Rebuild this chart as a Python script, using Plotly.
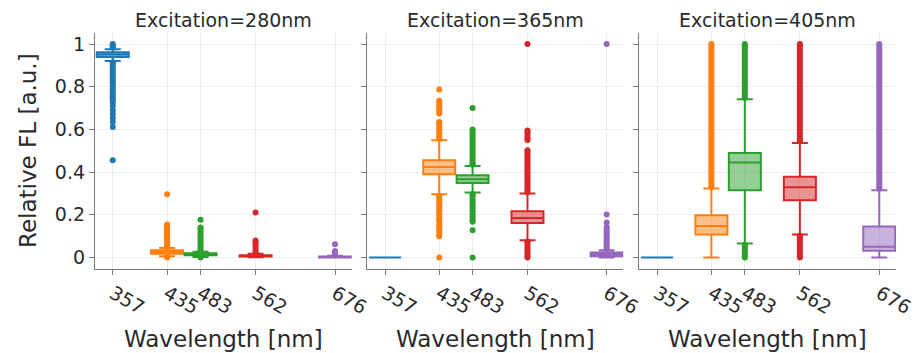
import plotly.graph_objects as go

WAVELENGTHS = [357, 435, 483, 562, 676]
EXCITATIONS = ["280nm", "365nm", "405nm"]
COLORS = ["#1f77b4", "#ff7f0e", "#2ca02c", "#d62728", "#9467bd"]

# box statistics per excitation, one value per emission wavelength
q1_280 = [0.940, 0.018, 0.010, 0.005, 0.000]
med_280 = [0.951, 0.026, 0.015, 0.008, 0.002]
q3_280 = [0.962, 0.034, 0.020, 0.011, 0.004]
lo_280 = [0.921, 0.006, 0.002, 0.001, 0.000]
hi_280 = [0.976, 0.045, 0.027, 0.017, 0.008]

q1_365 = [0.0, 0.390, 0.349, 0.162, 0.006]
med_365 = [0.0, 0.424, 0.367, 0.185, 0.015]
q3_365 = [0.0, 0.456, 0.385, 0.217, 0.023]
lo_365 = [0.0, 0.296, 0.304, 0.081, 0.000]
hi_365 = [0.0, 0.549, 0.429, 0.300, 0.034]

q1_405 = [0.0, 0.108, 0.315, 0.268, 0.031]
med_405 = [0.0, 0.147, 0.445, 0.329, 0.050]
q3_405 = [0.0, 0.198, 0.490, 0.378, 0.145]
lo_405 = [0.0, 0.000, 0.066, 0.108, 0.000]
hi_405 = [0.0, 0.323, 0.741, 0.537, 0.315]

# outliers: dense ranges (low, high) and isolated points, per wavelength
bands_280 = [[(0.984, 1.0), (0.74, 0.915)], [(0.05, 0.155), (0.0, 0.003)],
             [(0.03, 0.14)], [(0.02, 0.08)], [(0.01, 0.03)]]
points_280 = [[0.727, 0.71, 0.69, 0.672, 0.655, 0.635, 0.612, 0.456],
              [0.296], [0.177, 0.0], [0.211], [0.062]]

bands_365 = [[], [(0.555, 0.635), (0.675, 0.735), (0.167, 0.29), (0.10, 0.15)],
             [(0.435, 0.60), (0.167, 0.298)], [(0.306, 0.503), (0.55, 0.595), (0.0, 0.075)],
             [(0.04, 0.143)]]
points_365 = [[], [0.787, 0.0], [0.70, 0.128, 0.0], [1.0], [0.164, 0.201, 1.0]]

bands_405 = [[], [(0.33, 1.0)], [(0.748, 1.0), (0.0, 0.06)],
             [(0.545, 1.0), (0.0, 0.102)], [(0.322, 1.0)]]
points_405 = [[], [], [], [], []]

STATS = {
    "280nm": (q1_280, med_280, q3_280, lo_280, hi_280, bands_280, points_280),
    "365nm": (q1_365, med_365, q3_365, lo_365, hi_365, bands_365, points_365),
    "405nm": (q1_405, med_405, q3_405, lo_405, hi_405, bands_405, points_405),
}

FONT = "DejaVu Sans"
TXT = "rgb(42,42,42)"

fig = go.Figure()
domains = [[0.0, 0.3205], [0.3400, 0.6596], [0.6795, 1.0]]

for p, exc in enumerate(EXCITATIONS):
    q1, med, q3, lo, hi, bands, pts = STATS[exc]
    xa = "x" if p == 0 else f"x{p+1}"
    ya = "y" if p == 0 else f"y{p+1}"
    for i, wl in enumerate(WAVELENGTHS):
        col = COLORS[i]
        xs, ys = [], []
        for (a, b) in bands[i]:
            xs += [wl, wl, None]
            ys += [a, b, None]
        for v in pts[i]:
            xs += [wl, None]
            ys += [v, None]
        if xs:
            fig.add_trace(go.Scatter(x=xs, y=ys, mode="lines+markers",
                                     line=dict(color=col, width=6),
                                     marker=dict(color=col, size=6),
                                     xaxis=xa, yaxis=ya, showlegend=False,
                                     hoverinfo="skip"))
        fig.add_trace(go.Box(x=[wl], q1=[q1[i]], median=[med[i]], q3=[q3[i]],
                             lowerfence=[lo[i]], upperfence=[hi[i]],
                             width=46, line=dict(color=col, width=2),
                             marker=dict(color=col), boxpoints=False,
                             xaxis=xa, yaxis=ya, showlegend=False))

axis_common = dict(showline=True, linecolor="#7a7a7a", linewidth=1.3,
                   ticks="outside", ticklen=5, tickcolor="#7a7a7a",
                   showgrid=True, gridcolor="#ececec", gridwidth=1,
                   zeroline=False, mirror=False, automargin=False)

# page body adds an 8px offset; positions below are in figure coordinates
PLOT_TOP, PLOT_BOTTOM = 25, 261
PH = PLOT_BOTTOM - PLOT_TOP
ML, PW = 87, 801

layout = dict(
    width=922, height=353,
    margin=dict(l=ML, r=922 - ML - PW, t=PLOT_TOP, b=353 - PLOT_BOTTOM),
    plot_bgcolor="white", paper_bgcolor="white",
    font=dict(family=FONT, color=TXT),
    showlegend=False, boxmode="overlay",
    annotations=[],
)
for p, exc in enumerate(EXCITATIONS):
    sx = "" if p == 0 else str(p + 1)
    layout[f"xaxis{sx}"] = dict(
        axis_common, domain=domains[p], range=[331.5, 700],
        tickmode="array", tickvals=WAVELENGTHS,
        ticktext=[str(w) for w in WAVELENGTHS], tickangle=30,
        tickfont=dict(size=19, family=FONT, color=TXT),
        anchor="y" if p == 0 else f"y{p+1}",
    )
    layout[f"yaxis{sx}"] = dict(
        axis_common, range=[-0.054, 1.052],
        tickvals=[0, 0.2, 0.4, 0.6, 0.8, 1],
        ticktext=["0", "0.2", "0.4", "0.6", "0.8", "1"],
        showticklabels=(p == 0),
        tickfont=dict(size=19, family=FONT, color=TXT),
        anchor="x" if p == 0 else f"x{p+1}",
    )
    if p > 0:
        layout[f"yaxis{sx}"]["matches"] = "y"
    cx = sum(domains[p]) / 2
    layout["annotations"].append(dict(
        text=f"Excitation={exc}", x=cx, y=(PH + 13) / PH,
        xref="paper", yref="paper", xanchor="center", yanchor="middle",
        showarrow=False, font=dict(size=19, family=FONT, color=TXT)))
    layout["annotations"].append(dict(
        text="Wavelength [nm]", x=cx, y=-70 / PH,
        xref="paper", yref="paper", xanchor="center", yanchor="middle",
        showarrow=False, font=dict(size=23, family=FONT, color=TXT)))

layout["annotations"].append(dict(
    text="Relative FL [a.u.]", x=(28 - 95) / PW, y=0.5, textangle=-90,
    xref="paper", yref="paper", xanchor="center", yanchor="middle",
    showarrow=False, font=dict(size=23, family=FONT, color=TXT)))

fig.update_layout(**layout)
fig.write_html("out.html")
